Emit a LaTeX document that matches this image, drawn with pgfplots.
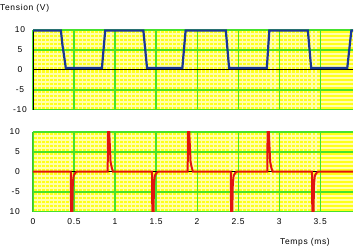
\documentclass[border=0pt]{standalone}
\usepackage{pgfplots}
\pgfplotsset{compat=1.18}
\usepackage{fontspec}
\setmainfont{Liberation Sans}[LetterSpace=8]
\definecolor{bgy}{RGB}{255,255,25}
\definecolor{miny}{RGB}{255,255,170}
\definecolor{gr}{RGB}{70,225,45}
\definecolor{bl}{RGB}{25,55,150}
\definecolor{rd}{RGB}{225,20,15}
\pgfplotsset{
  oscbase/.style={
    scale only axis, width=320bp, height=80bp,
    xmin=0, xmax=3.9, ymin=-10, ymax=10,
    axis line style={draw=none},
    xtick={0,0.5,...,3.5}, ytick={-10,-5,0,5,10},
    major tick length=0pt, minor tick length=0pt,
    tick label style={font=\fontsize{8.5}{9}\selectfont},
    /pgf/number format/assume math mode=true,
    clip=true,
  },
  oscminor/.style={
    oscbase,
    axis background/.style={fill=bgy},
    minor x tick num=9, minor y tick num=4,
    xminorgrids=true, yminorgrids=true,
    xmajorgrids=false, ymajorgrids=false,
    minor x grid style={draw=miny, line width=1.2bp, solid},
    minor y grid style={draw=miny, line width=1.8bp, solid},
    xticklabels={}, yticklabels={},
  },
  oscmajor/.style={
    oscbase,
    xmajorgrids=true, ymajorgrids=false,
    major grid style={draw=gr, line width=1.2bp, solid},
  }
}
\newcommand\blk{%
  \foreach \yy in {-10,-5,5,10}{\edef\tmp{\noexpand\draw[gr, line width=1.8bp] (axis cs:0,\yy) -- (axis cs:3.9,\yy);}\tmp}
  \draw[black, line width=1bp] (axis cs:0,0) -- (axis cs:3.9,0);
  \draw[black, line width=1bp] (axis cs:0,-10) -- (axis cs:0,10);
}
\begin{document}
\begin{tikzpicture}
\path[use as bounding box] (0,0) rectangle (363bp,250bp);
% top panel
\begin{axis}[oscminor, at={(33bp,140.3bp)}, anchor=south west]
\end{axis}
\begin{axis}[oscmajor, at={(33bp,140.3bp)}, anchor=south west,
  xticklabels={},
  yticklabels={-10,-5,0,5,10},
  yticklabel style={anchor=center, xshift=-13bp}]
\blk
\addplot[bl, line width=2.2bp] coordinates {
(0,9.8) (0.34,9.8) (0.36,6) (0.375,4) (0.40,0.4) (0.84,0.4) (0.88,9.8)
(1.345,9.8) (1.39,0.4) (1.82,0.4) (1.86,9.8)
(2.35,9.8) (2.39,0.4) (2.85,0.4) (2.88,9.8)
(3.35,9.8) (3.39,0.4) (3.83,0.4) (3.88,9.8) (3.9,9.8)};
\end{axis}
% bottom panel
\begin{axis}[oscminor, at={(33bp,38.3bp)}, anchor=south west]
\end{axis}
\begin{axis}[oscmajor, at={(33bp,38.3bp)}, anchor=south west,
  xticklabels={0,0.5,1,1.5,2,2.5,3,3.5},
  xticklabel style={anchor=north, inner sep=0pt, yshift=-6.5bp},
  yticklabels={10,-5,0,5,10},
  yticklabel style={anchor=east, inner sep=0pt, xshift=-13bp}]
\blk
\addplot[rd, line width=2bp] coordinates {
(0,0) (0.46,0) (0.465,-12) (0.477,-12) (0.485,-3) (0.495,-1) (0.515,-0.3) (0.535,0)
(0.91,0) (0.915,12) (0.925,12) (0.945,2.5) (0.96,1) (0.975,0)
(1.45,0) (1.455,-12) (1.467,-12) (1.475,-3) (1.485,-1) (1.505,-0.3) (1.525,0)
(1.885,0) (1.89,12) (1.90,12) (1.92,2.5) (1.935,1) (1.95,0)
(2.41,0) (2.415,-12) (2.427,-12) (2.435,-3) (2.445,-1) (2.465,-0.3) (2.485,0)
(2.855,0) (2.86,12) (2.87,12) (2.89,2.5) (2.905,1) (2.92,0)
(3.40,0) (3.405,-12) (3.417,-12) (3.425,-3) (3.435,-1) (3.455,-0.3) (3.475,0)
(3.9,0)};
\end{axis}
\node[anchor=west, inner sep=0pt, font=\fontsize{8.5}{9}\selectfont] at (0bp,242bp) {Tension (V)};
\node[inner sep=0pt, font=\fontsize{8.5}{9}\selectfont] at (305bp,8bp) {Temps (ms)};
\end{tikzpicture}
\end{document}
